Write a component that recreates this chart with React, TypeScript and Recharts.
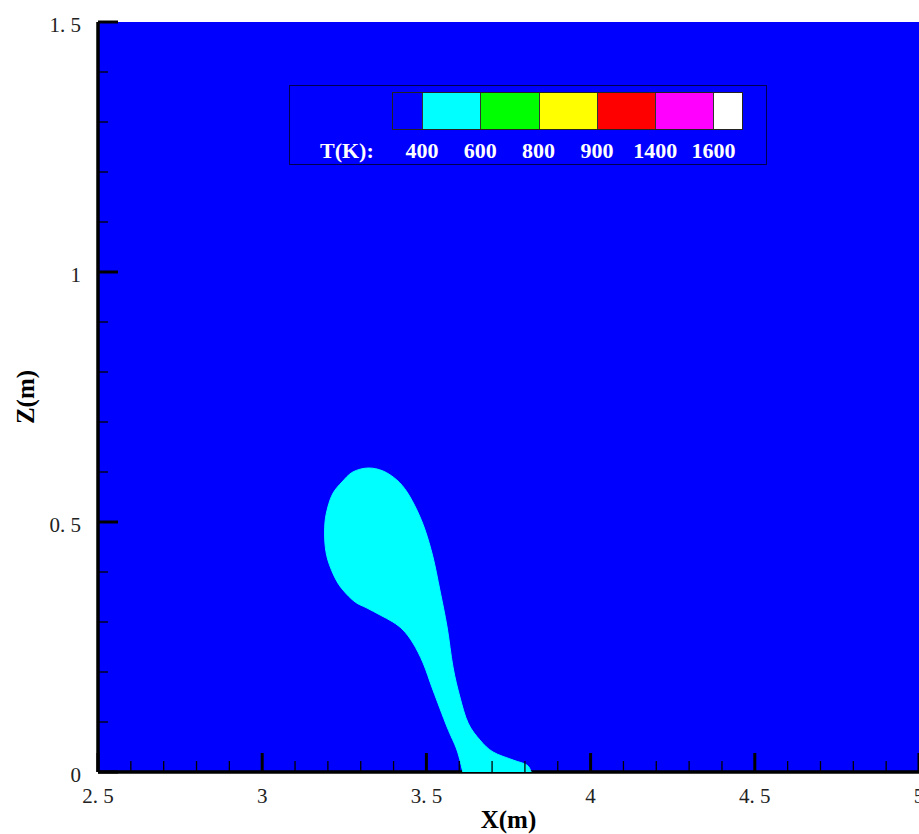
import React from "react";
import { ScatterChart, Scatter, XAxis, YAxis, CartesianGrid, Legend } from "recharts";

const BLUE = "#0000ff";
const CYAN = "#00ffff";

const X_TICKS = [
  2.5, 2.6, 2.7, 2.8, 2.9, 3.0, 3.1, 3.2, 3.3, 3.4, 3.5, 3.6, 3.7,
  3.8, 3.9, 4.0, 4.1, 4.2, 4.3, 4.4, 4.5, 4.6, 4.7, 4.8, 4.9, 5.0,
];
const Z_TICKS = [0, 0.1, 0.2, 0.3, 0.4, 0.5, 0.6, 0.7, 0.8, 0.9, 1.0, 1.1, 1.2, 1.3, 1.4, 1.5];

// 400 K isotherm outline (x, z in metres), traced from the stem foot round the bulb and back
const PLUME_X = [
  3.611, 3.593, 3.563, 3.52, 3.49, 3.459, 3.429, 3.398, 3.359, 3.319, 3.283, 3.246,
  3.222, 3.2, 3.191, 3.191, 3.2, 3.216, 3.243, 3.276, 3.322, 3.368, 3.41, 3.441,
  3.471, 3.496, 3.52, 3.541, 3.563, 3.581, 3.602, 3.627, 3.663, 3.703, 3.764, 3.806, 3.819,
];
const PLUME_Z = [
  0, 0.044, 0.09, 0.164, 0.218, 0.258, 0.284, 0.3, 0.314, 0.328, 0.34, 0.364,
  0.388, 0.424, 0.458, 0.498, 0.53, 0.558, 0.58, 0.6, 0.608, 0.602, 0.584, 0.56,
  0.524, 0.484, 0.43, 0.364, 0.29, 0.21, 0.15, 0.098, 0.064, 0.04, 0.024, 0.014, 0,
];

const LEVEL_COLORS = ["#0000ff", "#00ffff", "#00ff00", "#ffff00", "#ff0000", "#ff00ff", "#ffffff"];
const LEVEL_LABELS = ["400", "600", "800", "900", "1400", "1600"];

const plume = PLUME_X.map((x, i) => ({ x, z: PLUME_Z[i] }));

const SERIF = '"Liberation Serif", "Times New Roman", serif';

const isMajor = (v: number) => Math.abs(v * 2 - Math.round(v * 2)) < 1e-6;
const fmt = (v: number) => (Number.isInteger(v) ? String(v) : String(v).replace(".", ".\u00a0"));

function XTick({ x, y, payload }: any) {
  const v = payload.value as number;
  const major = isMajor(v);
  return (
    <g>
      <line x1={x} x2={x} y1={y} y2={y - (major ? 19 : 11)} stroke="#000" strokeWidth={major ? 3 : 1.3} />
      {major && (
        <text x={x} y={y + 31} textAnchor="middle" fontFamily={SERIF} fontSize={21} fill="#222">
          {fmt(v)}
        </text>
      )}
    </g>
  );
}

function YTick({ x, y, payload }: any) {
  const v = payload.value as number;
  const major = isMajor(v);
  return (
    <g>
      <line x1={x} x2={x + (major ? 20 : 10)} y1={y} y2={y} stroke="#000" strokeWidth={major ? 3 : 1.3} />
      {major && (
        <text x={x - 17} y={y + 10} textAnchor="end" fontFamily={SERIF} fontSize={21} fill="#222">
          {fmt(v)}
        </text>
      )}
    </g>
  );
}

// smooth (Catmull-Rom) outline through the scaled points, closed along the floor
function renderPlume(props: any) {
  const p: { x: number; y: number }[] = props.points || [];
  if (p.length < 2) return <g />;
  let d = `M${p[0].x},${p[0].y}`;
  for (let i = 0; i < p.length - 1; i++) {
    const p0 = p[i - 1] || p[i];
    const p1 = p[i];
    const p2 = p[i + 1];
    const p3 = p[i + 2] || p2;
    const c1x = p1.x + (p2.x - p0.x) / 6;
    const c1y = p1.y + (p2.y - p0.y) / 6;
    const c2x = p2.x - (p3.x - p1.x) / 6;
    const c2y = p2.y - (p3.y - p1.y) / 6;
    d += `C${c1x},${c1y} ${c2x},${c2y} ${p2.x},${p2.y}`;
  }
  d += "Z";
  return <path d={d} fill={CYAN} stroke={CYAN} strokeWidth={1} />;
}

function ColorBar() {
  const barLeft = 102;
  const endW = 29;
  const midW = 58.3;
  return (
    <div
      style={{
        width: 478,
        height: 80,
        boxSizing: "border-box",
        border: "1px solid #000050",
        position: "relative",
        fontFamily: SERIF,
        fontWeight: "bold",
        fontSize: 22,
        color: "#fff",
      }}
    >
      <div
        style={{
          position: "absolute",
          left: barLeft,
          top: 6,
          height: 36,
          display: "flex",
          border: "1px solid #222",
        }}
      >
        {LEVEL_COLORS.map((c, i) => (
          <div
            key={c}
            style={{
              width: i === 0 || i === LEVEL_COLORS.length - 1 ? endW : midW,
              height: 36,
              background: c,
              boxSizing: "border-box",
              borderLeft: i === 0 ? "none" : "1px solid #333",
            }}
          />
        ))}
      </div>
      <div style={{ position: "absolute", left: 30, top: 52, lineHeight: "26px" }}>T(K):</div>
      {LEVEL_LABELS.map((l, i) => (
        <div
          key={l}
          style={{
            position: "absolute",
            left: barLeft + 1 + endW + i * midW - 40,
            width: 80,
            textAlign: "center",
            top: 52,
            lineHeight: "26px",
          }}
        >
          {l}
        </div>
      ))}
    </div>
  );
}

export default function App() {
  return (
    <div style={{ position: "absolute", left: 0, top: 0, width: 919, height: 834, overflow: "hidden", background: "#fff" }}>
      <ScatterChart width={919} height={834} margin={{ top: 22, right: 0, bottom: 0, left: 0 }}>
        <CartesianGrid horizontal={false} vertical={false} fill={BLUE} fillOpacity={1} />
        <Scatter
          data={plume}
          dataKey="z"
          line={renderPlume}
          shape={() => <g />}
          isAnimationActive={false}
          legendType="none"
        />
        <XAxis
          type="number"
          dataKey="x"
          domain={[2.5, 5]}
          ticks={X_TICKS}
          interval={0}
          height={62}
          tickSize={0}
          tickMargin={0}
          tickLine={false}
          tick={<XTick />}
          axisLine={{ stroke: "#000", strokeWidth: 3.5 }}
          allowDataOverflow
          label={{
            value: "X(m)",
            position: "insideBottom",
            offset: 6,
            style: { fontFamily: SERIF, fontWeight: "bold", fontSize: 25, fill: "#000" },
          }}
        />
        <YAxis
          type="number"
          dataKey="z"
          domain={[0, 1.5]}
          ticks={Z_TICKS}
          interval={0}
          width={98}
          tickSize={0}
          tickMargin={0}
          tickLine={false}
          tick={<YTick />}
          axisLine={{ stroke: "#000", strokeWidth: 3.5 }}
          allowDataOverflow
          label={{
            content: ({ viewBox }: any) => {
              const cx = viewBox.x + 25;
              const cy = viewBox.y + viewBox.height / 2;
              return (
                <text
                  x={cx}
                  y={cy}
                  transform={`rotate(-90 ${cx} ${cy})`}
                  textAnchor="middle"
                  dominantBaseline="central"
                  fontFamily={SERIF}
                  fontWeight="bold"
                  fontSize={25}
                  fill="#000"
                >
                  Z(m)
                </text>
              );
            },
          }}
        />
        <Legend
          layout="vertical"
          align="center"
          verticalAlign="middle"
          content={() => <ColorBar />}
          wrapperStyle={{ left: 289, top: 85, width: 478, height: 80 }}
        />
      </ScatterChart>
    </div>
  );
}
